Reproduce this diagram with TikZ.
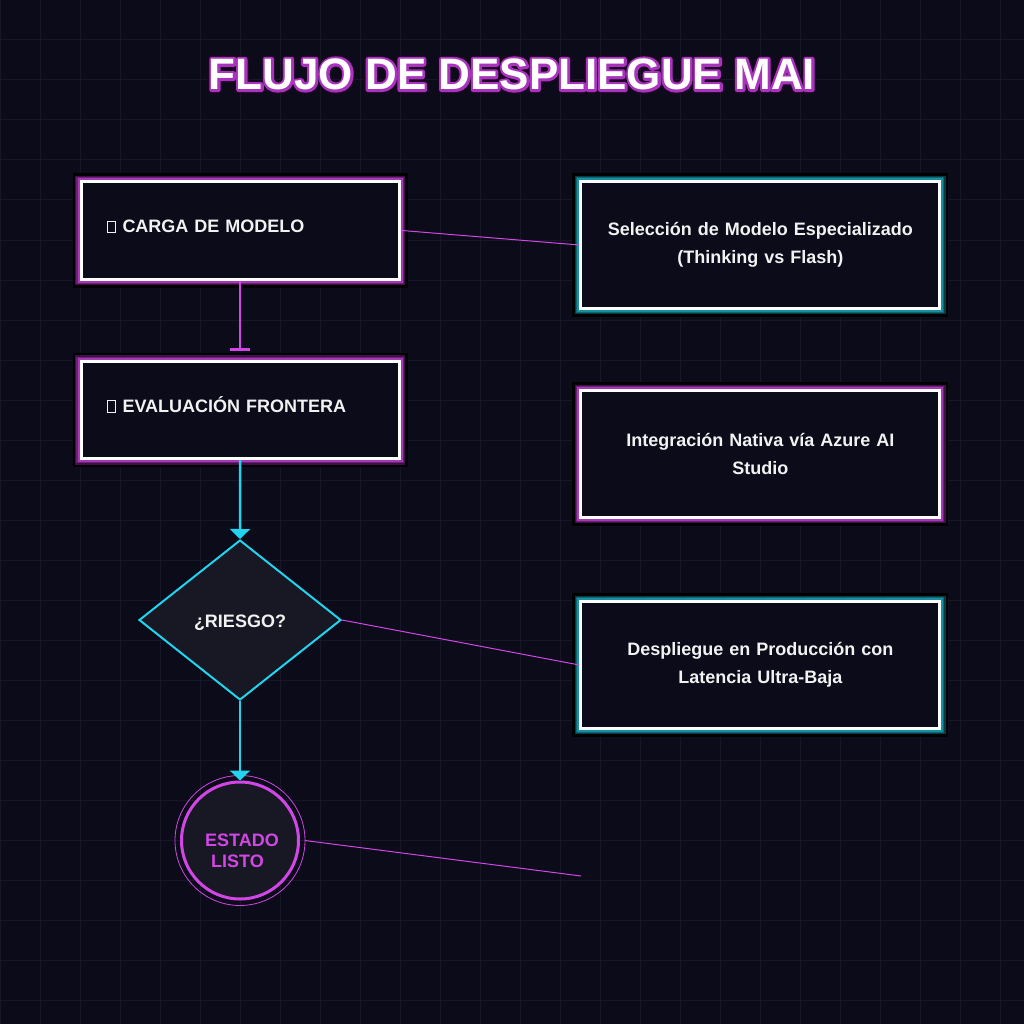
\documentclass[tikz,border=0pt]{standalone}
\usepackage{fontspec}
\setmainfont{Liberation Sans}
\usetikzlibrary{shapes.geometric,arrows.meta,calc}
\definecolor{bg}{HTML}{0B0B1A}
\definecolor{gridc}{HTML}{171728}
\definecolor{cyanc}{HTML}{22D3EE}
\definecolor{magc}{HTML}{D246E6}
\definecolor{pdark}{HTML}{3E1046}
\definecolor{pmid}{HTML}{6E2078}
\definecolor{pbright}{HTML}{A43AB8}
\definecolor{tdark}{HTML}{073A44}
\definecolor{tmid}{HTML}{0C6674}
\definecolor{tbright}{HTML}{1590A2}
\definecolor{shapefill}{HTML}{181824}
\definecolor{txt}{HTML}{F2F2F2}
\newcommand{\tofubox}{{\fboxsep=0pt\fboxrule=0.9pt\fbox{\rule{0pt}{11pt}\hspace{6.5pt}}}\hspace{7pt}}
\newcommand{\outlinedtitle}[1]{%
  \rlap{\color{black}\special{pdf:literal direct q 2 Tr 8 w 1 j 0.12 0.02 0.14 RG}#1\special{pdf:literal direct Q}}%
  \rlap{\color{pmid}\special{pdf:literal direct q 2 Tr 5 w 1 j 0.66 0.20 0.74 RG}#1\special{pdf:literal direct Q}}%
  {\color{white}#1}}
\tikzset{
  basebox/.style={rectangle, inner sep=0pt, fill=bg, draw=white, line width=3pt,
    text=txt, font=\bfseries\fontsize{18}{28}\selectfont},
  purplebox/.style={basebox,
    preaction={draw=black, line width=17pt},
    preaction={draw=pdark, line width=12pt},
    preaction={draw=pmid, line width=9.5pt},
    preaction={draw=pbright, line width=7pt}},
  tealbox/.style={basebox,
    preaction={draw=black, line width=17pt},
    preaction={draw=tdark, line width=12pt},
    preaction={draw=tmid, line width=9.5pt},
    preaction={draw=tbright, line width=7pt}},
  leftbox/.style={minimum width=318.3pt, minimum height=97.3pt, text width=266pt, align=left,
    text height=13pt, text depth=9pt},
  rightbox/.style={minimum width=358.7pt, minimum height=126.7pt, text width=340pt, align=center},
  flowline/.style={line width=2.5pt},
  thinline/.style={magc, line width=1pt},
  titlefont/.style={font=\bfseries\fontsize{44}{50}\selectfont}
}
\begin{document}
\begin{tikzpicture}[x=1pt,y=-1pt]
\useasboundingbox (0,0) rectangle (1024,1024);
\fill[bg] (0,0) rectangle (1024,1024);
\foreach \g in {0,40,...,1000} {
  \draw[gridc, line width=1pt] (\g,0) -- (\g,1024);
  \draw[gridc, line width=1pt] (0,\g) -- (1024,\g);
}
% title with outline
\node[titlefont, inner sep=0pt, text=white] (title) at (512,74.5) {\outlinedtitle{FLUJO DE DESPLIEGUE MAI}};

% left column boxes
\node[purplebox, leftbox] (b1) at (240.2,230.4) {\tofubox CARGA DE MODELO};
\node[purplebox, leftbox] (b2) at (240.2,410) {\tofubox EVALUACIÓN FRONTERA};

% right column boxes
\node[tealbox, rightbox] (bA) at (760.3,245) {Selección de Modelo Especializado\\(Thinking vs Flash)};
\node[purplebox, rightbox] (bB) at (760.3,454) {Integración Nativa vía Azure AI\\Studio};
\node[tealbox, rightbox] (bC) at (760.3,665) {Despliegue en Producción con\\Latencia Ultra-Baja};

% decision
\node[diamond, draw=cyanc, line width=2pt, fill=shapefill, minimum width=202pt, minimum height=160pt,
  inner sep=0pt, text=txt, font=\bfseries\fontsize{18}{22}\selectfont,
  text height=15pt, text depth=0pt] (d) at (240,620) {¿RIESGO?};

% end state
\draw[magc, line width=0.8pt] (240,840.5) circle[radius=65pt];
\node[circle, draw=magc, line width=3pt, fill=shapefill, minimum size=117pt, inner sep=0pt] (st) at (240,840.5) {};
\node[text=magc, font=\bfseries\fontsize{18}{21}\selectfont, align=left, inner sep=0pt] (sttxt) at (242,851) {ESTADO\\\hspace*{6pt}LISTO};

\coordinate (e4) at (581,876);

% connectors
\draw[flowline, magc, -{Bar[width=20pt]}, shorten >=9pt] (b1.south) -- (b2.north);
\draw[flowline, cyanc, -{Triangle[width=20pt,length=10pt]}] (b2.south) -- (d.north);
\draw[flowline, cyanc, -{Triangle[width=20pt,length=10pt]}] (d.south) -- (st.north);
\draw[thinline] (b1.east) -- (bA.west);
\draw[thinline] (d.east) -- (bC.west);
\draw[thinline] ($(st.east)+(5,0)$) -- (e4);
\end{tikzpicture}
\end{document}
